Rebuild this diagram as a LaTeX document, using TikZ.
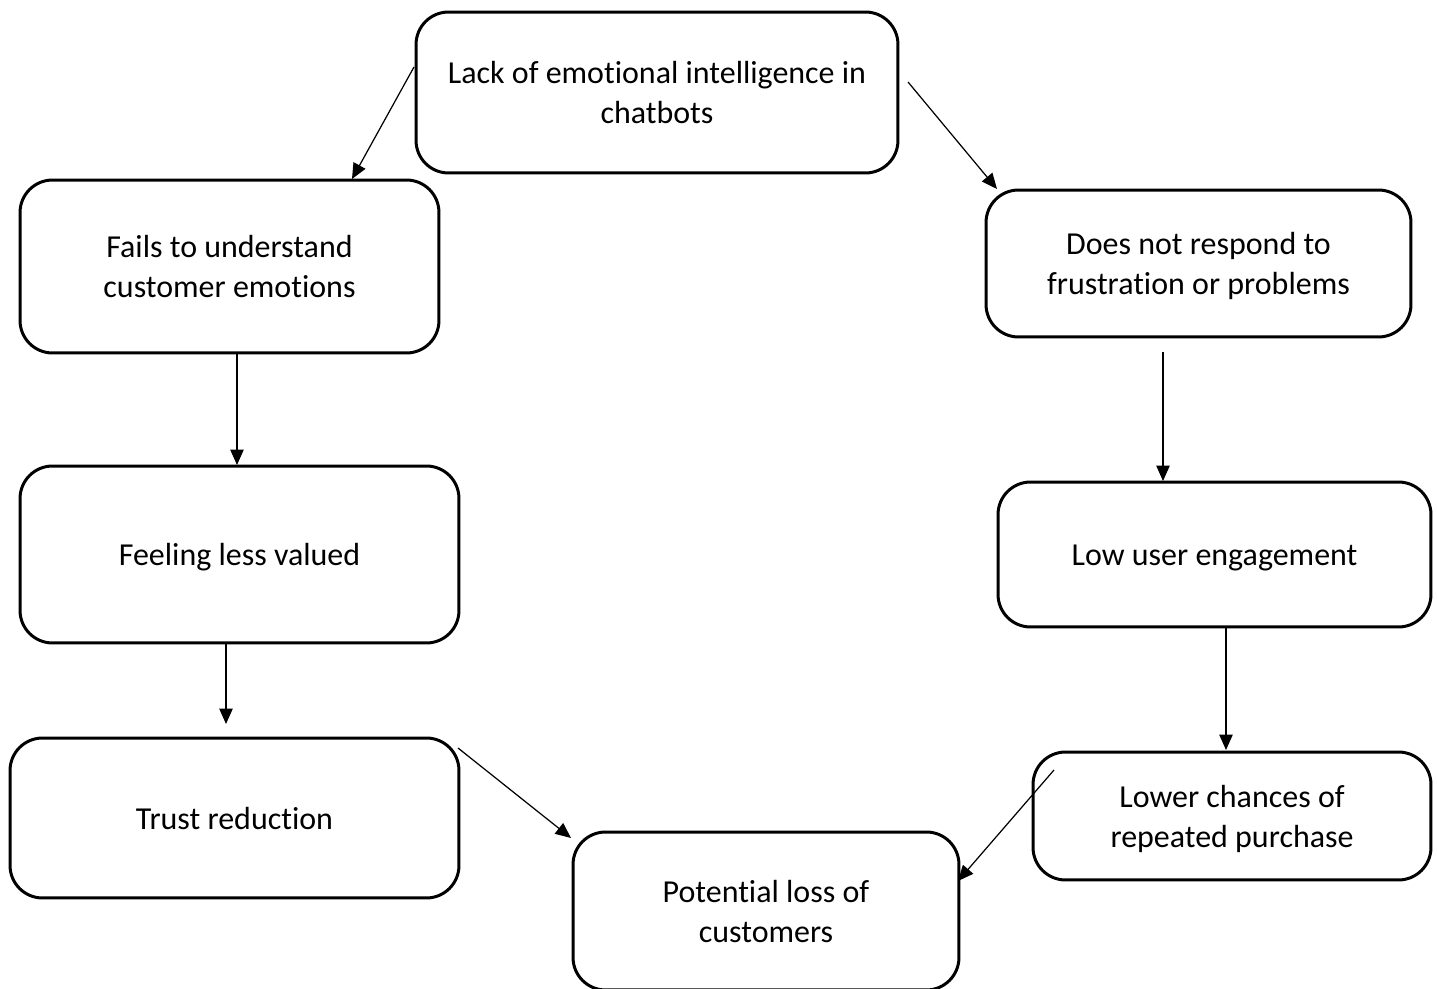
\documentclass[tikz,border=0pt]{standalone}
\usepackage{fontspec}
\setmainfont{Carlito}[Ligatures=CommonOff]
\usetikzlibrary{arrows.meta}
\newcommand\boxtext[1]{\begin{tabular}{@{}c@{}}\rule{0pt}{19.4pt}#1\end{tabular}}
\tikzset{
  box/.style={draw=black, line width=1.7pt, rounded corners=0.65cm, align=center,
    inner sep=0pt, font=\fontsize{18.2}{22.8}\selectfont},
  conn/.style={draw=black, line width=0.7pt, -{Triangle[length=0.31cm,width=0.27cm]}}
}
\begin{document}
\begin{tikzpicture}[x=0.02cm,y=-0.02cm]
\useasboundingbox (0,0) rectangle (1437,989);
\node[box, minimum width=9.64cm, minimum height=3.22cm] (top) at (657,92.5) {\boxtext{Lack of emotional intelligence in\\chatbots}};
\node[box, minimum width=8.38cm, minimum height=3.46cm] (l1) at (229.5,266.5) {\boxtext{Fails to understand\\customer emotions}};
\node[box, minimum width=8.5cm, minimum height=2.94cm] (r1) at (1198.5,263.5) {\boxtext{Does not respond to\\frustration or problems}};
\node[box, minimum width=8.78cm, minimum height=3.54cm] (l2) at (239.5,554.5) {\boxtext{Feeling less valued}};
\node[box, minimum width=8.66cm, minimum height=2.9cm] (r2) at (1214.5,554.5) {\boxtext{Low user engagement}};
\node[box, minimum width=8.98cm, minimum height=3.2cm] (l3) at (234.5,818) {\boxtext{Trust reduction}};
\node[box, minimum width=7.96cm, minimum height=2.56cm] (r3) at (1232,816) {\boxtext{Lower chances of\\repeated purchase}};
\node[box, minimum width=7.72cm, minimum height=3.16cm] (bot) at (766,911) {\boxtext{Potential loss of\\customers}};
\coordinate (a1s) at (414,67);  \coordinate (a1e) at (352,179);
\coordinate (a2s) at (908,82);  \coordinate (a2e) at (997,189);
\coordinate (a3s) at (237,353); \coordinate (a3e) at (237,465);
\coordinate (a4s) at (1163,352); \coordinate (a4e) at (1163,481);
\coordinate (a5s) at (226,643); \coordinate (a5e) at (226,724);
\coordinate (a6s) at (1226,627); \coordinate (a6e) at (1226,750);
\coordinate (a7s) at (458,748); \coordinate (a7e) at (571,838);
\coordinate (a8s) at (1054,770); \coordinate (a8e) at (958,881);
\draw[conn] (a1s) -- (a1e);
\draw[conn] (a2s) -- (a2e);
\draw[conn] (a3s) -- (a3e);
\draw[conn] (a4s) -- (a4e);
\draw[conn] (a5s) -- (a5e);
\draw[conn] (a6s) -- (a6e);
\draw[conn] (a7s) -- (a7e);
\draw[conn] (a8s) -- (a8e);
\end{tikzpicture}
\end{document}
